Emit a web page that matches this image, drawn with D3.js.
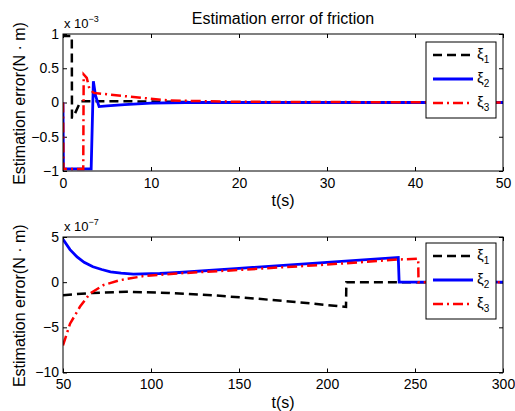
<!DOCTYPE html>
<html lang="en">
<head>
  <meta charset="UTF-8">
  <title>Estimation error of friction</title>
  <script src="https://d3js.org/d3.v7.min.js"></script>
  <style>
    body { margin: 0; background: #fff; }
    svg { font-family: "Liberation Sans", Arial, sans-serif; }
  </style>
</head>
<body>
  <svg id="chart"></svg>
  <script>
    // ---- data ----
    // top panel (values in 1e-3 N·m)
    const topT1  = [0, 0.05, 1.0, 1.02, 1.15, 1.75, 2.0, 6, 12, 20, 50];
    const topXi1 = [1.0, 0.97, 0.97, -0.22, -0.22, -0.05, 0.02, 0.02, 0.01, 0, 0];
    const topT2  = [0, 0.05, 3.2, 3.45, 3.7, 4.1, 5, 7, 10, 14, 20, 50];
    const topXi2 = [0, -0.97, -0.97, 0.31, 0.1, -0.06, -0.05, -0.03, -0.01, 0, 0, 0];
    const topT3  = [0, 0.05, 2.3, 2.35, 2.7, 3.0, 3.5, 5, 8, 12, 20, 50];
    const topXi3 = [0, -0.97, -0.97, 0.41, 0.36, 0.2, 0.14, 0.12, 0.08, 0.03, 0.01, 0];

    // bottom panel (values in 1e-7 N·m)
    const botT1  = [50, 67, 86, 110, 135, 159, 185, 210.8, 211, 300];
    const botXi1 = [-1.44, -1.19, -1.07, -1.19, -1.45, -1.81, -2.25, -2.74, 0, 0];
    const botT2  = [50, 54, 58, 62, 67, 72, 77, 83, 90, 105, 116, 150, 200, 240.5, 241, 300];
    const botXi2 = [4.75, 3.6, 2.8, 2.2, 1.7, 1.4, 1.15, 1.0, 0.89, 0.96, 1.07, 1.53, 2.2, 2.74, 0, 0];
    const botT3  = [50, 54, 59.7, 65.3, 72.9, 82.4, 95.6, 114.6, 150, 200, 240, 251.8, 252, 300];
    const botXi3 = [-7.0, -4.6, -2.7, -1.26, -0.33, 0.22, 0.67, 0.96, 1.35, 1.95, 2.5, 2.6, 0, 0];

    const topXTicks = [0, 10, 20, 30, 40, 50];
    const topYTicks = [-1, -0.5, 0, 0.5, 1];
    const botXTicks = [50, 100, 150, 200, 250, 300];
    const botYTicks = [-10, -5, 0, 5];
    const seriesNames = ["1", "2", "3"];   // subscripts of ξ

    const title = "Estimation error of friction";
    const yLabel = "Estimation error(N \u00b7 m)";
    const xLabel = "t(s)";

    // ---- layout ----
    const width = 515, height = 411;
    const styles = [
      { color: "#000000", dash: "9,5", width: 2.5 },
      { color: "#0000ff", dash: null, width: 2.8 },
      { color: "#ff0000", dash: "10,4,2,4", width: 2.5 }
    ];

    const svg = d3.select("#chart")
      .attr("width", width)
      .attr("height", height);

    svg.append("rect").attr("width", width).attr("height", height).attr("fill", "#fff");

    function zip(ts, vs) { return ts.map((t, i) => [t, vs[i]]); }

    function drawPanel(p) {
      const x = d3.scaleLinear().domain(p.xDomain).range([63, 503]);
      const y = d3.scaleLinear().domain(p.yDomain).range([p.bottom, p.top]);
      const g = svg.append("g");

      const clipId = "clip" + p.id;
      svg.append("clipPath").attr("id", clipId)
        .append("rect")
        .attr("x", 63).attr("y", p.top)
        .attr("width", 440).attr("height", p.bottom - p.top);

      // ticks (inside, on all four sides)
      const fmt = d3.format("");
      g.append("g")
        .attr("transform", `translate(0,${p.bottom})`)
        .call(d3.axisBottom(x).tickValues(p.xTicks).tickSize(-4).tickPadding(7).tickFormat(fmt))
        .call(a => a.select(".domain").remove());
      g.append("g")
        .attr("transform", `translate(0,${p.top})`)
        .call(d3.axisTop(x).tickValues(p.xTicks).tickSize(-4).tickFormat(""))
        .call(a => a.select(".domain").remove());
      g.append("g")
        .attr("transform", "translate(63,0)")
        .call(d3.axisLeft(y).tickValues(p.yTicks).tickSize(-4).tickPadding(4).tickFormat(fmt))
        .call(a => a.select(".domain").remove());
      g.append("g")
        .attr("transform", "translate(503,0)")
        .call(d3.axisRight(y).tickValues(p.yTicks).tickSize(-4).tickFormat(""))
        .call(a => a.select(".domain").remove());

      g.selectAll(".tick text")
        .attr("fill", "#000")
        .style("font-size", "14px")
        .style("font-family", "'Liberation Sans', Arial, sans-serif");
      g.selectAll(".tick line").attr("stroke", "#000");

      // lines
      const line = d3.line().x(d => x(d[0])).y(d => y(d[1]));
      const lines = g.append("g").attr("clip-path", `url(#${clipId})`);
      p.series.forEach((s, i) => {
        lines.append("path")
          .datum(s)
          .attr("fill", "none")
          .attr("stroke", styles[i].color)
          .attr("stroke-width", styles[i].width)
          .attr("stroke-dasharray", styles[i].dash)
          .attr("stroke-linejoin", "miter")
          .attr("d", line);
      });

      // axes box
      g.append("rect")
        .attr("x", 63).attr("y", p.top)
        .attr("width", 440).attr("height", p.bottom - p.top)
        .attr("fill", "none").attr("stroke", "#000").attr("stroke-width", 1);

      // exponent label
      const ex = g.append("text")
        .attr("x", 64).attr("y", p.top - 6)
        .style("font-size", "13px")
        .text("x 10");
      ex.append("tspan").attr("dy", -6).style("font-size", "9px").text(p.exponent);

      // axis labels
      g.append("text")
        .attr("x", 283).attr("y", p.bottom + 35)
        .attr("text-anchor", "middle")
        .style("font-size", "16px")
        .text(xLabel);
      g.append("text")
        .attr("transform", `translate(25,${(p.top + p.bottom) / 2 + 1}) rotate(-90)`)
        .attr("text-anchor", "middle")
        .style("font-size", "16px")
        .text(yLabel);

      // legend
      const lg = g.append("g").attr("transform", `translate(426,${p.top + p.legendOffset})`);
      lg.append("rect")
        .attr("width", 70).attr("height", 76)
        .attr("fill", "#fff").attr("stroke", "#000").attr("stroke-width", 1);
      seriesNames.forEach((n, i) => {
        const cy = 13 + i * 24;
        lg.append("line")
          .attr("x1", 7).attr("x2", 47).attr("y1", cy).attr("y2", cy)
          .attr("stroke", styles[i].color)
          .attr("stroke-width", styles[i].width)
          .attr("stroke-dasharray", styles[i].dash);
        const t = lg.append("text")
          .attr("x", 51).attr("y", cy + 4)
          .style("font-size", "15px")
          .text("\u03be");
        t.append("tspan").attr("dy", 4).style("font-size", "10px").text(n);
      });
    }

    drawPanel({
      id: "top", top: 34, bottom: 171,
      xDomain: [0, 50], yDomain: [-1, 1],
      xTicks: topXTicks, yTicks: topYTicks, exponent: "\u22123",
      legendOffset: 8,
      series: [zip(topT1, topXi1), zip(topT2, topXi2), zip(topT3, topXi3)]
    });

    drawPanel({
      id: "bot", top: 237, bottom: 372.5,
      xDomain: [50, 300], yDomain: [-10, 5],
      xTicks: botXTicks, yTicks: botYTicks, exponent: "\u22127",
      legendOffset: 6,
      series: [zip(botT1, botXi1), zip(botT2, botXi2), zip(botT3, botXi3)]
    });

    svg.append("text")
      .attr("x", 283).attr("y", 24)
      .attr("text-anchor", "middle")
      .style("font-size", "16px")
      .text(title);
  </script>
</body>
</html>
